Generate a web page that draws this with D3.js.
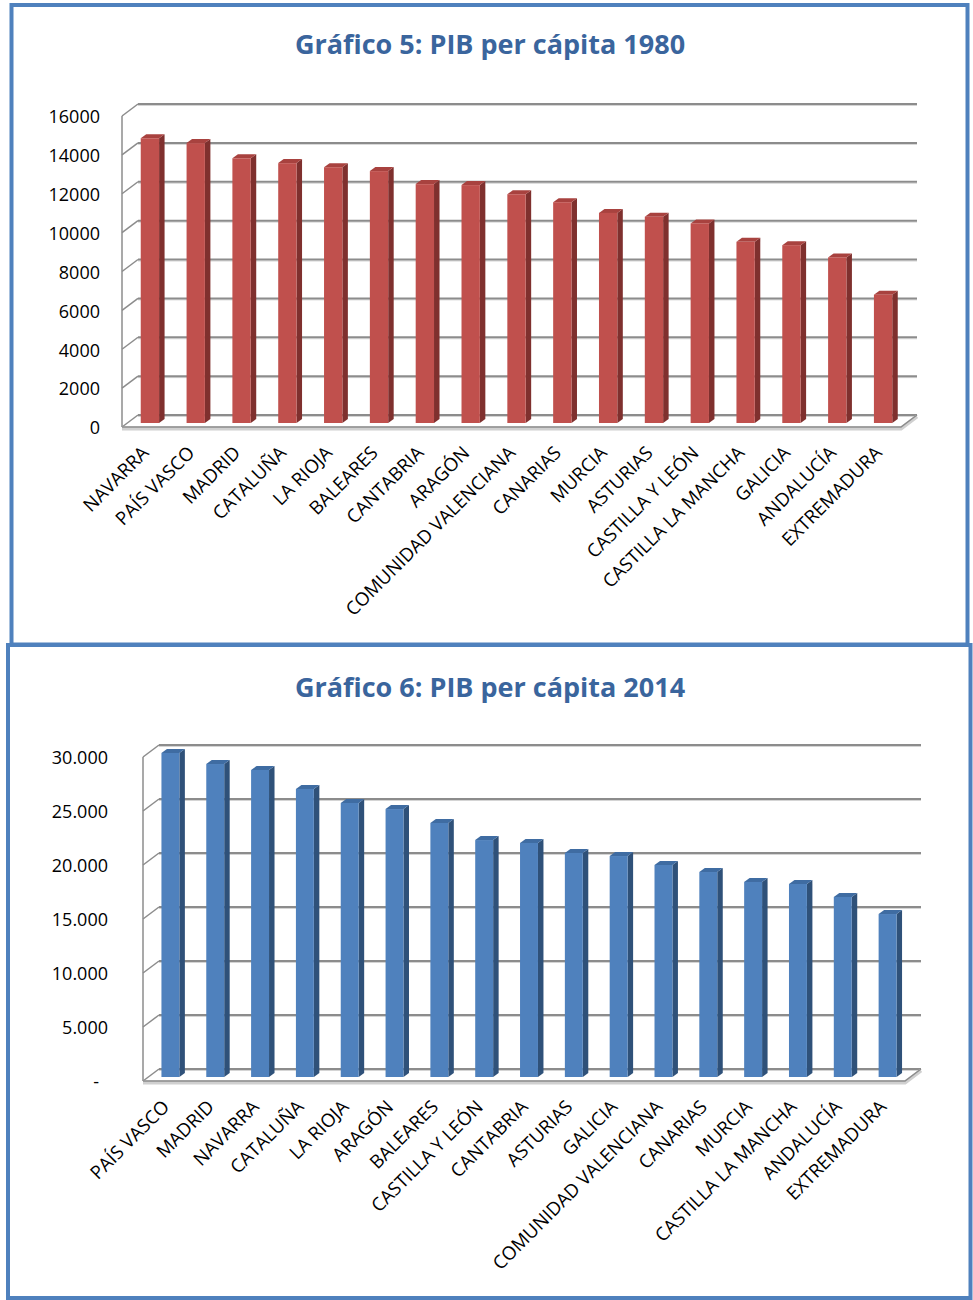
<!DOCTYPE html>
<html>
<head>
<meta charset="utf-8">
<script src="https://cdn.jsdelivr.net/npm/d3@7"></script>
<style>
  body { margin: 0; background: #fff; }
  svg { display: block; }
  .ytick { font-family: 'Open Sans', sans-serif; font-size: 18px; fill: #000; }
  .xlab { font-family: 'Open Sans', sans-serif; font-size: 18.6px; fill: #000; }
  .title { font-family: 'Open Sans', sans-serif; font-weight: bold; font-size: 27px; fill: #3a659d; }
</style>
</head>
<body>
<svg id="chart"></svg>
<script>
// values
var categories1980 = ['NAVARRA', 'PAÍS VASCO', 'MADRID', 'CATALUÑA', 'LA RIOJA', 'BALEARES', 'CANTABRIA', 'ARAGÓN',
  'COMUNIDAD VALENCIANA', 'CANARIAS', 'MURCIA', 'ASTURIAS', 'CASTILLA Y LEÓN', 'CASTILLA LA MANCHA',
  'GALICIA', 'ANDALUCÍA', 'EXTREMADURA'];
var values1980 = [14650, 14400, 13620, 13370, 13160, 12960, 12290, 12240, 11770, 11360, 10810, 10610,
  10270, 9320, 9150, 8520, 6600];
var ticks1980 = [0, 2000, 4000, 6000, 8000, 10000, 12000, 14000, 16000];

var categories2014 = ['PAÍS VASCO', 'MADRID', 'NAVARRA', 'CATALUÑA', 'LA RIOJA', 'ARAGÓN', 'BALEARES',
  'CASTILLA Y LEÓN', 'CANTABRIA', 'ASTURIAS', 'GALICIA', 'COMUNIDAD VALENCIANA', 'CANARIAS', 'MURCIA',
  'CASTILLA LA MANCHA', 'ANDALUCÍA', 'EXTREMADURA'];
var values2014 = [30000, 28980, 28430, 26670, 25370, 24810, 23520, 21940, 21670, 20740, 20460, 19630,
  18980, 18060, 17870, 16670, 15090];
var ticks2014 = [0, 5000, 10000, 15000, 20000, 25000, 30000];

var W = 973, H = 1300;
var svg = d3.select('#chart').attr('width', W).attr('height', H);
svg.append('rect').attr('width', W).attr('height', H).attr('fill', '#fff');

var es = d3.formatLocale({decimal: ',', thousands: '.', grouping: [3], currency: ['', '€']});
var fmtDots = es.format(',.0f');

function drawPanel(cfg) {
  var g = svg.append('g');

  // panel frame
  g.append('rect')
    .attr('x', cfg.box[0]).attr('y', cfg.box[1])
    .attr('width', cfg.box[2]).attr('height', cfg.box[3])
    .attr('fill', '#fff')
    .attr('stroke', '#4f81bd')
    .attr('stroke-width', 4);

  g.append('text')
    .attr('class', 'title')
    .attr('x', 490).attr('y', cfg.titleY)
    .attr('text-anchor', 'middle')
    .text(cfg.title);

  var dx = 16, dy = -12;          // wall depth
  var bx = 5, by = -4;            // bar plane offset (1/3 depth)
  var sx = 5.5, sy = -4;          // bar depth

  var y = d3.scaleLinear()
    .domain([0, d3.max(cfg.ticks)])
    .range([cfg.floorY, cfg.topY]);

  var x = d3.scaleBand()
    .domain(cfg.categories)
    .range([cfg.x0 + bx, cfg.x1 + bx])
    .paddingInner(0.6)
    .paddingOuter(0.3);

  // back wall grid lines + side wall diagonals
  var grid = g.append('g');
  cfg.ticks.forEach(function(t) {
    var yf = y(t);
    grid.append('line')
      .attr('x1', cfg.x0 + dx).attr('x2', cfg.x1 + dx)
      .attr('y1', yf + dy + 1.5).attr('y2', yf + dy + 1.5)
      .attr('stroke', '#d4d4d4').attr('stroke-width', 1);
    grid.append('line')
      .attr('x1', cfg.x0 + dx).attr('x2', cfg.x1 + dx)
      .attr('y1', yf + dy).attr('y2', yf + dy)
      .attr('stroke', '#8c8c8c').attr('stroke-width', 2);
    grid.append('line')
      .attr('x1', cfg.x0).attr('y1', yf)
      .attr('x2', cfg.x0 + dx).attr('y2', yf + dy)
      .attr('stroke', '#8c8c8c').attr('stroke-width', 1.5);
  });
  // left wall front edge
  grid.append('line')
    .attr('x1', cfg.x0).attr('x2', cfg.x0)
    .attr('y1', y(d3.max(cfg.ticks))).attr('y2', cfg.floorY)
    .attr('stroke', '#8c8c8c').attr('stroke-width', 1.5);
  // floor
  grid.append('path')
    .attr('d', 'M' + cfg.x0 + ',' + cfg.floorY + 'L' + cfg.x1 + ',' + cfg.floorY +
      'L' + (cfg.x1 + dx) + ',' + (cfg.floorY + dy))
    .attr('fill', 'none')
    .attr('stroke', '#d0d0d0').attr('stroke-width', 4)
    .attr('transform', 'translate(0,1.5)');
  grid.append('path')
    .attr('d', 'M' + cfg.x0 + ',' + cfg.floorY + 'L' + cfg.x1 + ',' + cfg.floorY +
      'L' + (cfg.x1 + dx) + ',' + (cfg.floorY + dy))
    .attr('fill', 'none')
    .attr('stroke', '#8c8c8c').attr('stroke-width', 1.5);

  // bars
  var bars = g.append('g').selectAll('g')
    .data(cfg.values)
    .enter().append('g');

  bars.each(function(d, i) {
    var b = d3.select(this);
    var xl = x(cfg.categories[i]), xr = xl + x.bandwidth();
    var yt = y(d) + by, yb = y(0) + by;
    // side face
    b.append('path')
      .attr('d', 'M' + xr + ',' + yb + 'L' + xr + ',' + yt + 'L' + (xr + sx) + ',' + (yt + sy) +
        'L' + (xr + sx) + ',' + (yb + sy) + 'Z')
      .attr('fill', cfg.side);
    // top face
    b.append('path')
      .attr('d', 'M' + xl + ',' + yt + 'L' + xr + ',' + yt + 'L' + (xr + sx) + ',' + (yt + sy) +
        'L' + (xl + sx) + ',' + (yt + sy) + 'Z')
      .attr('fill', cfg.top);
    // front face
    b.append('rect')
      .attr('x', xl).attr('y', yt)
      .attr('width', x.bandwidth()).attr('height', yb - yt)
      .attr('fill', cfg.front);
  });

  // y labels
  g.append('g').selectAll('text')
    .data(cfg.ticks)
    .enter().append('text')
    .attr('class', 'ytick')
    .attr('x', function(d) { return d === 0 && cfg.zeroDash ? cfg.labelX - 9 : cfg.labelX; })
    .attr('y', function(d) { return y(d) + 1; })
    .attr('dy', '0.35em')
    .attr('text-anchor', 'end')
    .text(cfg.fmt);

  // category labels
  g.append('g').selectAll('text')
    .data(cfg.categories)
    .enter().append('text')
    .attr('class', 'xlab')
    .attr('text-anchor', 'end')
    .attr('transform', function(d) {
      var cx = x(d) + x.bandwidth() / 2;
      return 'translate(' + cx + ',' + (cfg.floorY + 27) + ') rotate(-45)';
    })
    .text(function(d) { return d; });
}

drawPanel({
  box: [11.5, 5, 956, 639.5],
  title: 'Gráfico 5: PIB per cápita 1980',
  titleY: 54,
  categories: categories1980,
  values: values1980,
  ticks: ticks1980,
  x0: 122, x1: 901,
  floorY: 427, topY: 116,
  labelX: 100,
  fmt: function(d) { return String(d); },
  front: '#c0504d', side: '#7f302e', top: '#a8423f'
});

drawPanel({
  box: [8, 645, 962.5, 653],
  title: 'Gráfico 6: PIB per cápita 2014',
  titleY: 697,
  categories: categories2014,
  values: values2014,
  ticks: ticks2014,
  x0: 143, x1: 905,
  floorY: 1081, topY: 757,
  labelX: 108,
  zeroDash: true,
  fmt: function(d) { return d === 0 ? '-' : fmtDots(d); },
  front: '#4f81bd', side: '#2f5179', top: '#3f6ca2'
});
</script>
</body>
</html>
